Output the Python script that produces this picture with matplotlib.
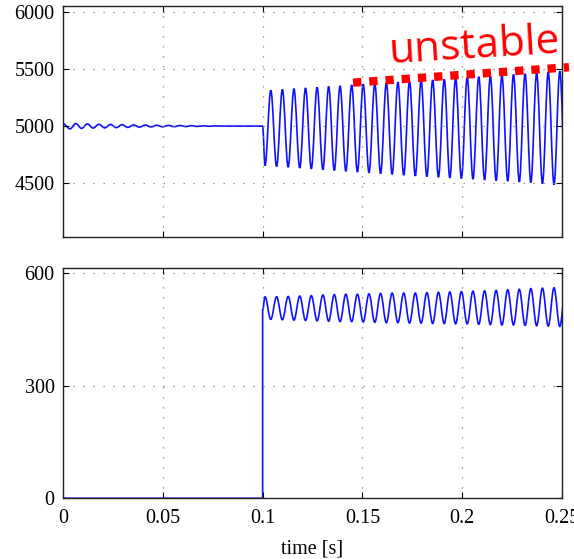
import numpy as np
import matplotlib.pyplot as plt
from matplotlib.path import Path
from matplotlib.patches import PathPatch

# ------------------------------------------------------------
# values (extrema of the waveforms)
# ------------------------------------------------------------
# top trace: small decaying ring at start-up (extrema)
t_ring = [0.0035, 0.0064, 0.0093, 0.0122, 0.0151, 0.0180, 0.0209, 0.0238,
          0.0267, 0.0296, 0.0325, 0.0354, 0.0383, 0.0412, 0.0441, 0.0470,
          0.0499, 0.0528, 0.0557, 0.0586, 0.0615, 0.0644, 0.0673, 0.0702,
          0.0731, 0.0760]
v_ring = [4976, 5022, 4980, 5019, 4983, 5016, 4985, 5014, 4987, 5012, 4989,
          5010, 4991, 5009, 4993, 5007, 4994, 5006, 4995, 5005, 4996, 5004,
          4997, 5003, 4998, 5002]
v_top_start = 5022
v_top_steady = 5000
t_step = 0.1

# after the step: times of top troughs (= bottom peaks) and top peaks (= bottom troughs)
t_trough = [0.1012, 0.1070, 0.1128, 0.1186, 0.1244, 0.1302, 0.1359, 0.1417,
            0.1475, 0.1533, 0.1591, 0.1649, 0.1707, 0.1765, 0.1823, 0.1881,
            0.1938, 0.1996, 0.2054, 0.2112, 0.2170, 0.2228, 0.2286, 0.2344,
            0.2402, 0.2460, 0.2518]
t_peak = [0.1041, 0.1099, 0.1157, 0.1215, 0.1273, 0.1331, 0.1388, 0.1446,
          0.1504, 0.1562, 0.1620, 0.1678, 0.1736, 0.1794, 0.1852, 0.1910,
          0.1967, 0.2025, 0.2083, 0.2141, 0.2199, 0.2257, 0.2315, 0.2373,
          0.2431, 0.2489]

top_trough = [4655, 4647, 4641, 4634, 4627, 4619, 4612, 4605, 4599, 4592,
              4585, 4578, 4571, 4565, 4559, 4553, 4547, 4542, 4536, 4530,
              4524, 4519, 4513, 4507, 4497, 4487, 4480]
top_peak = [5313, 5320, 5327, 5333, 5339, 5346, 5352, 5359, 5366, 5372,
            5378, 5384, 5390, 5396, 5403, 5409, 5416, 5425, 5432, 5437,
            5444, 5451, 5458, 5465, 5472, 5480]

# bottom trace
v_bot_jump = 502
bot_peak = [537, 537, 538, 539, 540, 542, 543, 544, 544, 545, 546, 547, 547,
            547, 548, 549, 550, 551, 552, 553, 554, 556, 557, 559, 560, 561,
            562]
bot_trough = [477, 476, 475, 474, 473, 472, 471, 471, 470, 469, 468, 468,
              467, 467, 466, 466, 465, 465, 464, 463, 462, 462, 461, 460,
              459, 458]

# "unstable" marker line (ends) and label
unstable_t = [0.1453, 0.2535]
unstable_v = [5380, 5515]
unstable_label = "unstable"

xticks = [0, 0.05, 0.1, 0.15, 0.2, 0.25]
xticklabels = ["0", "0.05", "0.1", "0.15", "0.2", "0.25"]
top_yticks = [4500, 5000, 5500, 6000]
bot_yticks = [0, 300, 600]


def interleave(a_t, a_v, b_t, b_v):
    ts, vs = [], []
    for i in range(len(a_t)):
        ts.append(a_t[i]); vs.append(a_v[i])
        if i < len(b_t):
            ts.append(b_t[i]); vs.append(b_v[i])
    return ts, vs


def smooth_path(ts, vs):
    # cubic segments with flat tangents at each extremum (sine-like shape)
    verts = [(ts[0], vs[0])]
    codes = [Path.MOVETO]
    for i in range(len(ts) - 1):
        dt = ts[i + 1] - ts[i]
        verts += [(ts[i] + 0.364 * dt, vs[i]),
                  (ts[i + 1] - 0.364 * dt, vs[i + 1]),
                  (ts[i + 1], vs[i + 1])]
        codes += [Path.CURVE4] * 3
    return Path(verts, codes)


tt, tv = interleave(t_trough, top_trough, t_peak, top_peak)
top_t = [0.0] + t_ring + [0.0789, t_step] + tt
top_v = [v_top_start] + v_ring + [v_top_steady, v_top_steady] + tv

bt, bv = interleave(t_trough, bot_peak, t_peak, bot_trough)
bot_t = [0.0, t_step, t_step] + bt
bot_v = [0, 0, v_bot_jump] + bv

plt.rcParams['font.family'] = ['Liberation Serif', 'DejaVu Serif']

fig = plt.figure(figsize=(5.74, 5.59), dpi=100)
ax1 = fig.add_axes([0.1098, 0.576, 0.8693, 0.4132])
ax2 = fig.add_axes([0.1098, 0.1086, 0.8693, 0.4114])

blue = '#1010ff'
ax1.add_patch(PathPatch(smooth_path(top_t, top_v), fill=False,
                        edgecolor=blue, lw=1.2))
ax2.add_patch(PathPatch(smooth_path(bot_t, bot_v), fill=False,
                        edgecolor=blue, lw=1.2))

ax1.set_ylim(4030, 6050)
ax2.set_ylim(0, 613)
ax1.set_yticks(top_yticks)
ax2.set_yticks(bot_yticks)

for ax in (ax1, ax2):
    ax.set_xlim(0, 0.25)
    ax.set_xticks(xticks)
    ax.grid(True, color='#808080', linestyle=(0, (1, 7)), linewidth=0.9)
    ax.tick_params(direction='in', top=True, right=True, length=4,
                   width=0.8, labelsize=14.5, pad=6)
    for s in ax.spines.values():
        s.set_linewidth(1.0)
        s.set_color('#222222')

ax1.set_xticklabels([])
ax2.set_xticklabels(xticklabels)
ax2.tick_params(axis='x', pad=8)
ax2.set_xlabel("time [s]", fontsize=14.5, labelpad=8)

# red square-dotted marker line + label
ax1.plot(unstable_t, unstable_v, color='#ff0000', lw=6,
         linestyle=(0, (1, 0.95)), dash_capstyle='butt', clip_on=False,
         zorder=5)
ax1.text(0.1638, 5548, unstable_label, color='#ff0000', fontsize=30.5,
         family=['Open Sans', 'DejaVu Sans'], rotation=3.5,
         rotation_mode='anchor', ha='left', va='baseline', clip_on=False)

plt.savefig('out.png', dpi=100)
